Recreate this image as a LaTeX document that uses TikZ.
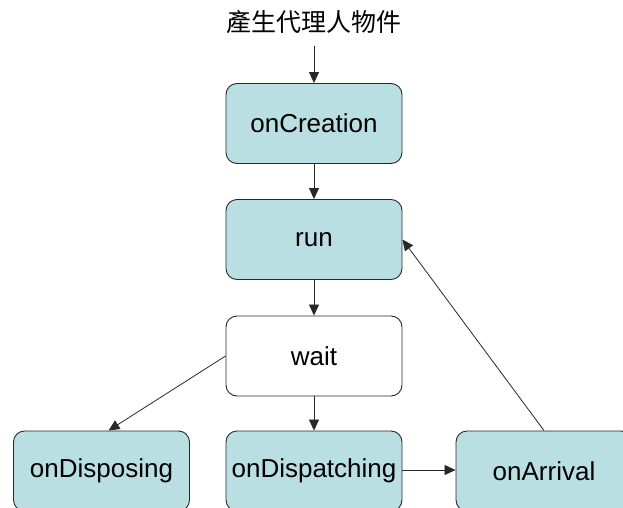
\documentclass[tikz,border=0pt]{standalone}
\usepackage{fontspec}
\setmainfont{Liberation Sans}
\newfontfamily\cjk{Noto Sans CJK TC}
\usetikzlibrary{arrows.meta}
\definecolor{boxfill}{RGB}{185,223,226}
\definecolor{edge}{RGB}{40,40,40}
\tikzset{
  state/.style={draw=edge, line width=0.9pt, rounded corners=11pt,
    minimum width=176pt, minimum height=80pt, inner sep=0pt,
    font=\fontsize{26}{30}\selectfont},
  active/.style={state, fill=boxfill},
  idle/.style={state, fill=white},
  flow/.style={draw=edge, line width=0.8pt, -{Triangle[length=11pt,width=10pt]}}
}
\begin{document}
\begin{tikzpicture}[x=1pt,y=-1pt]
\useasboundingbox (0,0) rectangle (623,508);
\clip (0,0) rectangle (623,508);
\node (title) at (314,22) {\cjk\fontsize{25}{28}\selectfont 產生代理人物件};
\node[active] (create)   at (314,123.5) {onCreation};
\node[active] (run)      at (314,239.5) {run};
\node[idle]   (wait)     at (314,356)   {wait};
\node[active] (dispose)  at (101.5,471) {onDisposing};
\node[active] (dispatch) at (314,471)   {onDispatching};
\node[active] (arrive)   at (544,471)   {onArrival};

\coordinate (start) at (314,46);
\draw[flow] (start) -- (create.north);
\draw[flow] (create) -- (run);
\draw[flow] (run) -- (wait);
\draw[flow] (wait) -- (dispatch);
\draw[flow] (wait.west) -- ([xshift=7pt]dispose.north);
\draw[flow] (dispatch.east |- 0,470) -- (arrive.west |- 0,470);
\draw[flow] (arrive.north) -- (run.east);
\end{tikzpicture}
\end{document}
